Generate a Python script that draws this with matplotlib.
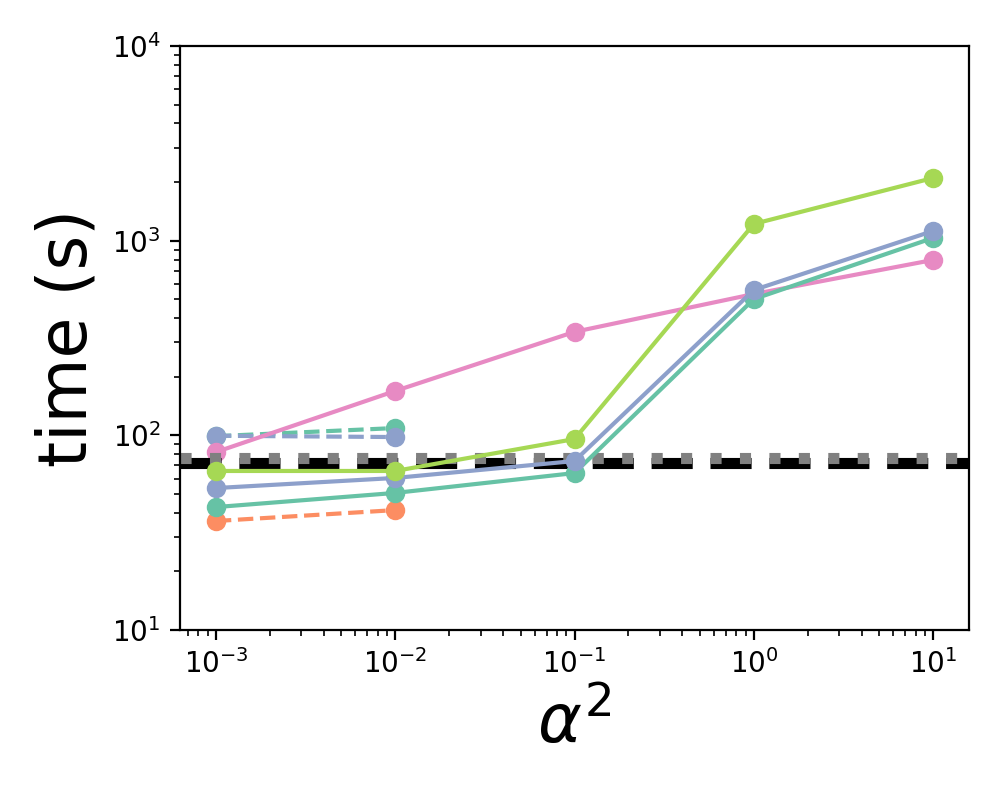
import matplotlib
matplotlib.use('Agg')
import matplotlib.pyplot as plt

alpha2 = [1e-3, 1e-2, 1e-1, 1e0, 1e1]
alpha2_short = [1e-3, 1e-2]

# solid series
t_teal = [42.8, 50.6, 64.0, 501, 1033]
t_blue = [53.6, 60.4, 73.8, 558, 1122]
t_green = [65.6, 65.6, 95.7, 1219, 2099]
t_pink = [82, 169, 340, 532, 796]

# dashed series (two points)
t_orange_d = [36.3, 41.3]
t_teal_d = [99, 109]
t_blue_d = [99.5, 98]

ref_black = 72
ref_gray = 76.6

c_teal, c_orange, c_blue, c_pink, c_green = '#66c2a5', '#fc8d62', '#8da0cb', '#e78ac3', '#a6d854'

fig = plt.figure(figsize=(5, 4), dpi=200)
ax = fig.add_axes([0.18, 0.2125, 0.789, 0.73])

ax.plot(alpha2_short, t_orange_d, 'o--', color=c_orange)
ax.plot(alpha2_short, t_teal_d, 'o--', color=c_teal)
ax.plot(alpha2_short, t_blue_d, 'o--', color=c_blue)
ax.plot(alpha2, t_pink, 'o-', color=c_pink)

ax.axhline(ref_black, color='black', ls='--', lw=4)
ax.axhline(ref_gray, color='gray', ls=':', lw=4)

ax.plot(alpha2, t_teal, 'o-', color=c_teal)
ax.plot(alpha2, t_blue, 'o-', color=c_blue)
ax.plot(alpha2, t_green, 'o-', color=c_green)

ax.set_xscale('log')
ax.set_yscale('log')
ax.set_ylim(10, 1e4)
ax.set_xlabel(r'$\alpha^2$', fontsize=24)
ax.set_ylabel('time (s)', fontsize=24)

plt.savefig('out.png', dpi=200)
